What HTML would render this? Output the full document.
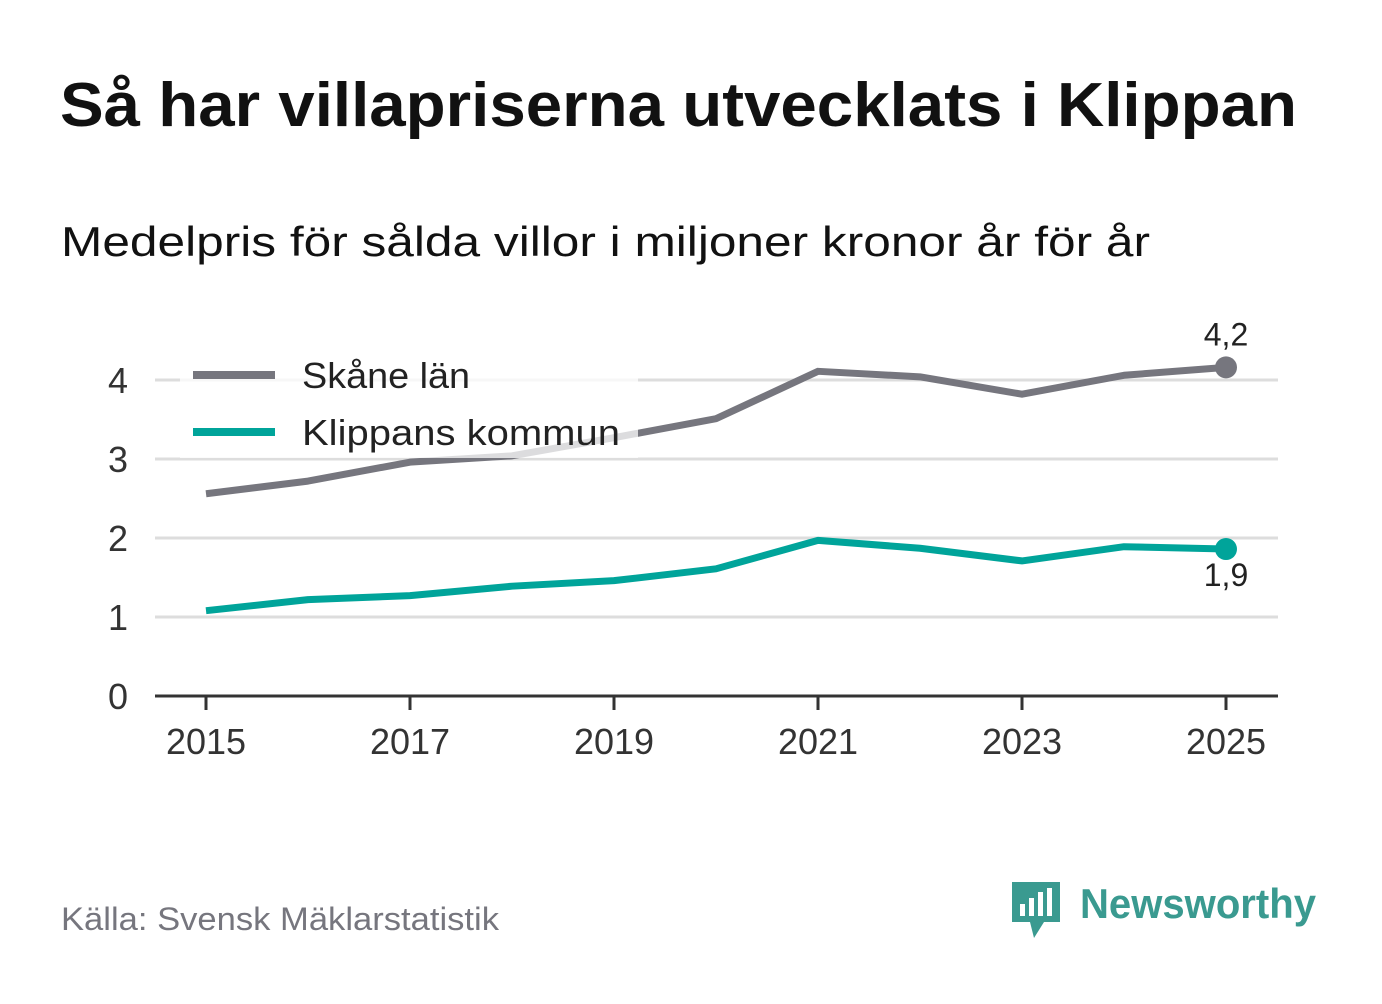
<!DOCTYPE html>
<html><head><meta charset="utf-8"><style>
body{margin:0;background:#fff;width:1382px;height:999px;overflow:hidden;font-family:"Liberation Sans","DejaVu Sans",sans-serif}
</style></head><body>
<svg width="1382" height="999" xmlns="http://www.w3.org/2000/svg">
<text x="60" y="126" font-size="62" font-weight="bold" fill="#111" textLength="1237" lengthAdjust="spacingAndGlyphs">Så har villapriserna utvecklats i Klippan</text>
<text x="61" y="256" font-size="42" fill="#111" textLength="1089" lengthAdjust="spacingAndGlyphs">Medelpris för sålda villor i miljoner kronor år för år</text>
<g id="grid"></g><g id="lines"></g><g id="axes"></g>
<g>
<rect x="180" y="352" width="458" height="106" fill="#fff" opacity="0.75"/>
<line x1="193" y1="375" x2="275" y2="375" stroke="#76767e" stroke-width="8"/>
<text x="302" y="388" font-size="36" fill="#222" textLength="168" lengthAdjust="spacingAndGlyphs">Skåne län</text>
<line x1="193" y1="432" x2="275" y2="432" stroke="#00a49a" stroke-width="8"/>
<text x="302" y="445" font-size="36" fill="#222" textLength="318" lengthAdjust="spacingAndGlyphs">Klippans kommun</text>
</g>
<text x="61" y="930" font-size="32" fill="#76767e" textLength="438" lengthAdjust="spacingAndGlyphs">Källa: Svensk Mäklarstatistik</text>
<g>
<path d="M1012 882h48v40h-16l-10 16-4-16h-18z" fill="#3a9a90"/>
<rect x="1020" y="904" width="5" height="12" fill="#fff"/><rect x="1029" y="898" width="5" height="18" fill="#fff"/><rect x="1038" y="892" width="5" height="24" fill="#fff"/><rect x="1047" y="888" width="5" height="28" fill="#fff"/>
<text x="1080" y="918" font-size="42" font-weight="bold" fill="#3a9a90" textLength="236" lengthAdjust="spacingAndGlyphs">Newsworthy</text>
</g>
</svg>
<script>
const years=[2015,2016,2017,2018,2019,2020,2021,2022,2023,2024,2025];
const skane=[2.56,2.72,2.96,3.04,3.27,3.51,4.11,4.04,3.82,4.06,4.16];
const klippan=[1.08,1.22,1.27,1.39,1.46,1.61,1.97,1.87,1.71,1.89,1.86];
const yTicks=[0,1,2,3,4];
const xTicks=[2015,2017,2019,2021,2023,2025];
const NS="http://www.w3.org/2000/svg";
const X=y=>206+(y-2015)*102, Y=v=>696-v*79;
function mk(t,a,p){const e=document.createElementNS(NS,t);for(const k in a)e.setAttribute(k,a[k]);p.appendChild(e);return e;}
const grid=document.getElementById('grid'),lines=document.getElementById('lines'),axes=document.getElementById('axes');
yTicks.forEach(v=>{
 if(v>0){const g=mk('line',{x1:155,x2:1278,y1:Y(v),y2:Y(v),stroke:'#ddd','stroke-width':3},grid);
 
 }
 const t=mk('text',{x:128,y:Y(v)+13,'font-size':36,fill:'#333','text-anchor':'end'},axes);t.textContent=v;
 
 
});
const ax=mk('line',{x1:155,x2:1278,y1:696,y2:696,stroke:'#333','stroke-width':3},axes);


xTicks.forEach(y=>{
 mk('line',{x1:X(y),x2:X(y),y1:696,y2:710,stroke:'#333','stroke-width':3},axes);
 const t=mk('text',{x:X(y),y:754,'font-size':36,fill:'#333','text-anchor':'middle'},axes);t.textContent=y;
 
 
});
function series(vals,color,name,lblDy){
 const p=mk('polyline',{points:vals.map((v,i)=>X(years[i])+','+Y(v)).join(' '),fill:'none',stroke:color,'stroke-width':7,'stroke-linejoin':'round'},lines);
 
 
 const n=vals.length-1;
 const c=mk('circle',{cx:X(years[n]),cy:Y(vals[n]),r:11,fill:color},lines);
 
 
 const t=mk('text',{x:X(years[n]),y:Y(vals[n])+lblDy,'font-size':32,fill:'#222','text-anchor':'middle'},lines);
 t.textContent=vals[n].toFixed(1).replace('.',',');
 
 
}
series(skane,'#76767e','skane',-22);
series(klippan,'#00a49a','klippan',37);
</script>
</body></html>
